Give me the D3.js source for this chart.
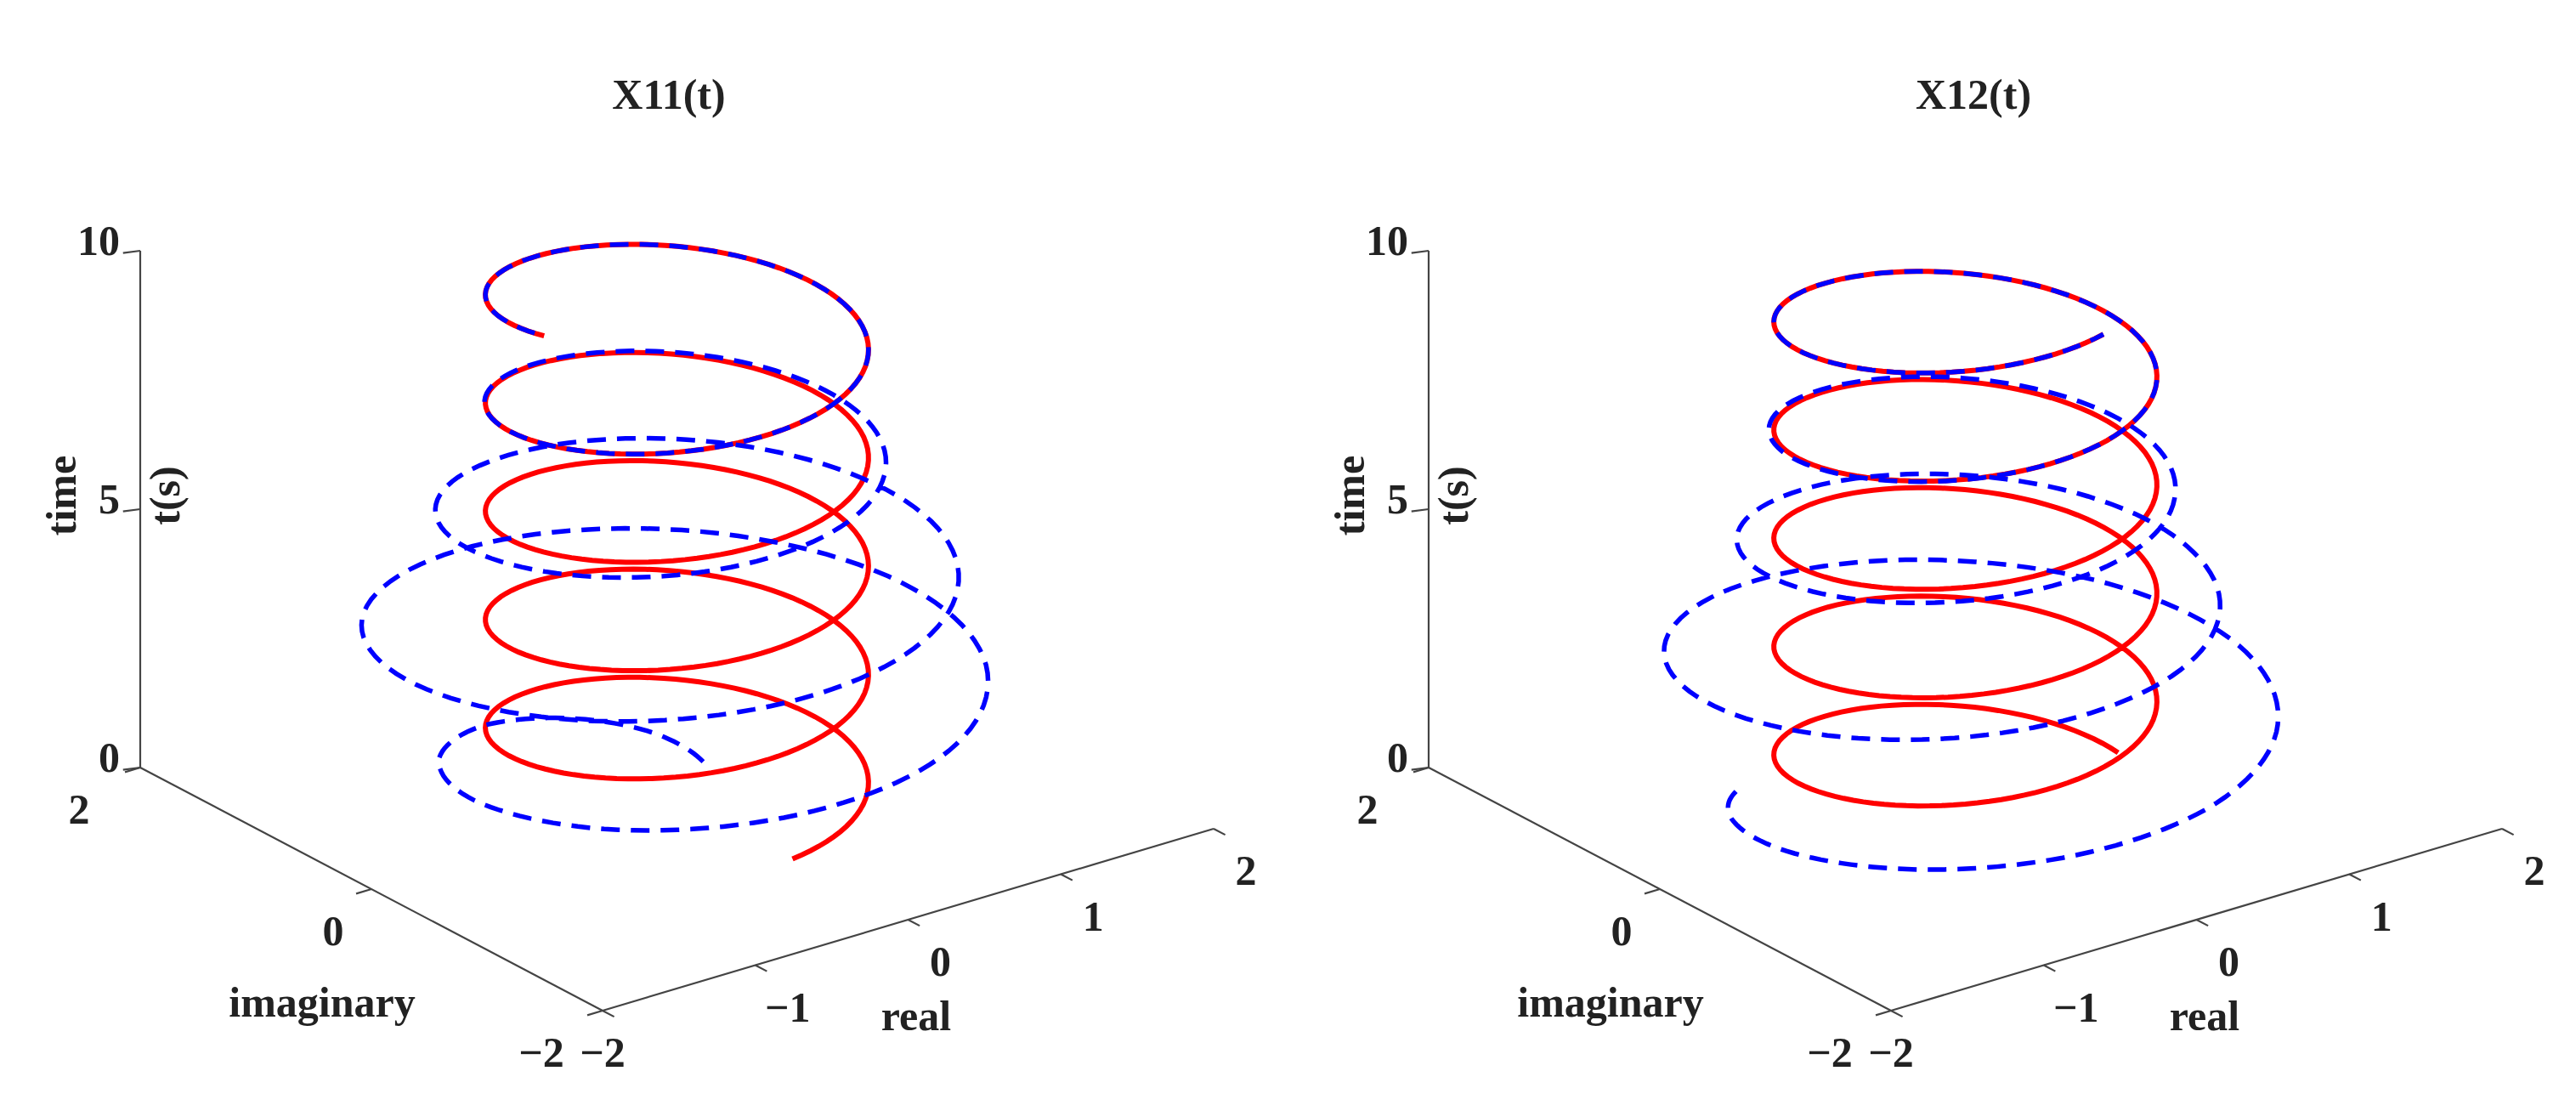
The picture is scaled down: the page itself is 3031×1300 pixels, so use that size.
<!DOCTYPE html>
<html><head><meta charset="utf-8">
<script src="https://cdn.jsdelivr.net/npm/d3@7"></script>
<style>body{margin:0;background:#fff}</style></head>
<body><svg id="c" width="3031" height="1300"></svg>
<script>
// ---- data ----
const titles = ["X11(t)", "X12(t)"];
const time = [0,0.25,0.5,0.75,1,1.25,1.5,1.75,2,2.25,2.5,2.75,3,3.25,3.5,3.75,4,4.25,4.5,4.75,5,5.25,5.5,5.75,6,6.25,6.5,6.75,7,7.25,7.5,7.75,8,8.25,8.5,8.75,9,9.25,9.5,9.75,10];
const carrierDeg = [0,43,86,129,172,215,258,301,344,387,430,473,516,559,602,645,688,730,773,816,859,902,945,988,1031,1074,1117,1160,1203,1246,1289,1332,1375,1418,1461,1504,1547,1590,1633,1676,1719];
const redAmp = [1,1,1,1,1,1,1,1,1,1,1,1,1,1,1,1,1,1,1,1,1,1,1,1,1,1,1,1,1,1,1,1,1,1,1,1,1,1,1,1,1];
const redOffsetDeg = [-90, 0];
const blueAmp11 = [0.50,0.70,0.90,1.10,1.25,1.38,1.48,1.55,1.60,1.63,1.65,1.66,1.66,1.65,1.63,1.60,1.55,1.50,1.45,1.40,1.35,1.30,1.26,1.22,1.18,1.14,1.10,1.07,1.04,1.02,1.01,1.00,1.00,1.00,1.00,1.00,1.00,1.00,1.00,1.00,1.00];
const blueOff11 = [37,20,5,-10,-22,-32,-40,-47,-52,-56,-59,-61,-63,-64,-66,-68,-70,-72,-74,-76,-78,-80,-82,-84,-85,-86,-87,-88,-89,-89,-90,-90,-90,-90,-90,-90,-90,-90,-90,-90,-90];
const blueAmp12 = [1.20,1.30,1.40,1.48,1.55,1.60,1.63,1.65,1.66,1.65,1.62,1.57,1.52,1.46,1.40,1.35,1.30,1.27,1.24,1.21,1.19,1.17,1.15,1.13,1.10,1.08,1.06,1.04,1.03,1.02,1.01,1.00,1.00,1.00,1.00,1.00,1.00,1.00,1.00,1.00,1.00];
const blueOff12 = [139,120,105,92,80,70,60,52,45,40,35,31,28,25,22,20,18,16,14,12,10,8,7,6,5,4,3,2,1,1,0,0,0,0,0,0,0,0,0,0,0];
const realTicks = [-2,-1,0,1,2];
const imagTicks = [-2,0,2];
const timeTicks = [0,5,10];

// ---- layout ----
const svg = d3.select("#c");
const panelDX = [0, 1516];
const reX = d3.scaleLinear([-2,2],[-359.5,359.5]), reY = d3.scaleLinear([-2,2],[107,-107]);
const imX = d3.scaleLinear([-2,2],[272,-272]), imY = d3.scaleLinear([-2,2],[143,-143]);
const tY = d3.scaleLinear([0,10],[0,-608]);
const cx0 = 796.5, cy0 = 939;
const font = "'Liberation Serif','Times New Roman',serif";

function panel(k, series){
  const g = svg.append("g").attr("transform",`translate(${panelDX[k]},0)`);
  const P = (r,i,t)=>[cx0+reX(r)+imX(i), cy0+reY(r)+imY(i)+tY(t)];
  const seg=(a,b)=>g.append("line").attr("x1",a[0]).attr("y1",a[1]).attr("x2",b[0]).attr("y2",b[1]).attr("stroke","#444").attr("stroke-width",2.2);
  seg(P(-2,2,0),P(-2,2,10));
  seg(P(-2,2,0),P(-2,-2,0));
  seg(P(-2,-2,0),P(2,-2,0));
  timeTicks.forEach(t=>seg(P(-2,2,t),P(-2.09,2.03,t)));
  imagTicks.forEach(v=>seg(P(-2,v,0),P(-2.1,v,0)));
  realTicks.forEach(v=>seg(P(v,-2,0),P(v,-2.1,0)));
  const txt=(x,y,s,opt={})=>g.append("text").attr("x",x).attr("y",y).text(s)
    .attr("font-family",font).attr("font-weight","bold").attr("font-size",opt.size||50)
    .attr("text-anchor",opt.anchor||"middle").attr("dominant-baseline","middle").attr("fill","#222")
    .attr("transform",opt.rot?`rotate(-90,${x},${y})`:null);
  timeTicks.forEach(t=>{const p=P(-2,2,t); txt(p[0]-24,p[1]-6,String(t),{anchor:"end"});});
  imagTicks.forEach(v=>{const p=P(-2,v,0); const dx = v===-2?-72:(v===2?-72:-45); txt(p[0]+dx,p[1]+55,v<0?"\u2212"+(-v):String(v));});
  realTicks.forEach(v=>{const p=P(v,-2,0); const dx = v===-2?0:38; txt(p[0]+dx,p[1]+55,v<0?"\u2212"+(-v):String(v));});
  txt(379,1185,"imaginary");
  txt(1078,1201,"real");
  txt(78,583,"time",{rot:true});
  txt(200,583,"t(s)",{rot:true});
  txt(787+(k?19:0),117,titles[k],{size:50});
  // curves: render each sample-to-sample segment as a polar arc (renderer smoothing)
  const line = d3.line();
  series.forEach(s=>{
    const pts=[];
    time.forEach((t,j)=>{
      if(j===time.length-1){const a=(carrierDeg[j]+s.off[j])*Math.PI/180; pts.push(P(s.amp[j]*Math.cos(a),s.amp[j]*Math.sin(a),t)); return;}
      const n=12;
      for(let q=0;q<n;q++){
        const f=q/n;
        const a=((carrierDeg[j]+s.off[j])*(1-f)+(carrierDeg[j+1]+s.off[j+1])*f)*Math.PI/180;
        const r=s.amp[j]*(1-f)+s.amp[j+1]*f;
        pts.push(P(r*Math.cos(a),r*Math.sin(a),t*(1-f)+time[j+1]*f));
      }
    });
    g.append("path").attr("d",line(pts)).attr("fill","none").attr("stroke",s.color)
     .attr("stroke-width",s.w).attr("stroke-dasharray",s.dash||null).attr("stroke-linecap","butt");
  });
}
const redOff = k=>time.map(()=>redOffsetDeg[k]);
panel(0,[
  {amp:redAmp, off:redOff(0), color:"#ff0000", w:6},
  {amp:blueAmp11, off:blueOff11, color:"#0000ff", w:5.5, dash:"22,13"}
]);
panel(1,[
  {amp:redAmp, off:redOff(1), color:"#ff0000", w:6},
  {amp:blueAmp12, off:blueOff12, color:"#0000ff", w:5.5, dash:"22,13"}
]);
</script></body></html>
